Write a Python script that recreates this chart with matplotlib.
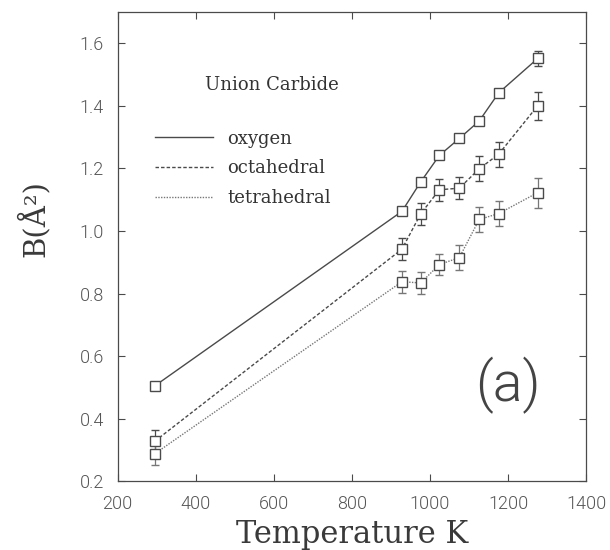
import matplotlib
matplotlib.use('Agg')
import matplotlib.pyplot as plt

# temperatures (K)
temps = [295, 928, 976, 1024, 1075, 1126, 1176, 1276]

oxygen = [0.505, 1.063, 1.157, 1.242, 1.296, 1.352, 1.442, 1.552]
oxygen_err = [0.01, 0.01, 0.01, 0.01, 0.01, 0.01, 0.01, 0.025]

octahedral = [0.328, 0.942, 1.055, 1.132, 1.137, 1.199, 1.246, 1.401]
octahedral_err = [0.035, 0.035, 0.035, 0.035, 0.035, 0.04, 0.04, 0.045]

tetrahedral = [0.288, 0.838, 0.834, 0.893, 0.915, 1.037, 1.056, 1.123]
tetrahedral_err = [0.035, 0.035, 0.035, 0.035, 0.04, 0.04, 0.04, 0.048]

col = '#4a4a4a'
thin = {'family': 'Roboto', 'weight': 300}


def main():
    fig = plt.figure(figsize=(6.1, 5.5), dpi=100)
    ax = fig.add_axes([0.193, 0.125, 0.768, 0.853])

    ax.errorbar(temps, oxygen, yerr=oxygen_err, color=col, lw=1.0, ls='-',
                marker='s', ms=7.5, mfc='white', mec=col, mew=1.0,
                capsize=3, elinewidth=0.9, label='oxygen')
    ax.errorbar(temps, octahedral, yerr=octahedral_err, color=col, lw=1.0, ls=(0, (2.5, 1.5)),
                marker='s', ms=7.5, mfc='white', mec=col, mew=1.0,
                capsize=3, elinewidth=0.9, label='octahedral')
    ax.errorbar(temps, tetrahedral, yerr=tetrahedral_err, color='#777777', lw=1.0, ls=(0, (1, 1)),
                marker='s', ms=7.5, mfc='white', mec=col, mew=1.0,
                capsize=3, elinewidth=0.9, label='tetrahedral')

    ax.set_xlim(200, 1400)
    ax.set_ylim(0.2, 1.7)
    ax.set_xticks(range(200, 1401, 200))
    ax.set_yticks([0.2, 0.4, 0.6, 0.8, 1.0, 1.2, 1.4, 1.6])
    ax.set_yticklabels(['0.2', '0.4', '0.6', '0.8', '1.0', '1.2', '1.4', '1.6'])
    ax.tick_params(direction='in', top=True, right=True, length=5, width=0.8,
                   colors=col, labelsize=13, pad=10, labelcolor='#555555')
    for lab in ax.get_xticklabels() + ax.get_yticklabels():
        lab.set_fontfamily(thin['family'])
        lab.set_fontweight(thin['weight'])
    for s in ax.spines.values():
        s.set_color(col)
        s.set_linewidth(0.9)

    ax.set_xlabel('Temperature K', family='DejaVu Serif', fontsize=22, color='#3a3a3a', labelpad=4)
    ax.set_ylabel('B(Å²)', family='DejaVu Serif', fontsize=21, color='#3a3a3a')
    ax.yaxis.set_label_coords(-0.145, 0.56)

    ax.text(0.186, 0.844, 'Union Carbide', transform=ax.transAxes, family='DejaVu Serif',
            fontsize=13, color='#333333', va='center')
    ax.text(0.902, 0.205, '(a)', transform=ax.transAxes, fontsize=40, color='#444444',
            ha='right', va='center', **thin)

    h, l = ax.get_legend_handles_labels()
    h = [x[0] for x in h]
    leg = ax.legend(h, l, loc='upper left', bbox_to_anchor=(0.064, 0.765), frameon=False,
                    borderaxespad=0, handlelength=3.2, handletextpad=0.8, labelspacing=0.65,
                    prop={'family': 'DejaVu Serif', 'size': 13})
    for t in leg.get_texts():
        t.set_color('#333333')
    for line in leg.get_lines():
        line.set_marker('')

    fig.savefig('out.png', dpi=100)


if __name__ == '__main__':
    main()
